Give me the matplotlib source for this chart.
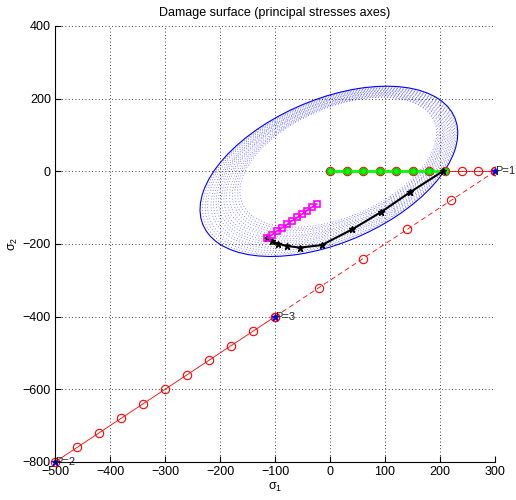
import numpy as np
import matplotlib
matplotlib.use('Agg')
import matplotlib.pyplot as plt
from matplotlib.patches import Ellipse

plt.rcParams['font.family'] = ['Liberation Sans', 'DejaVu Sans']
plt.rcParams['mathtext.default'] = 'regular'

judul = 'Damage surface (principal stresses axes)'

# damage surfaces: semi axes along (1,1) and (1,-1), centre; last one = current surface
surf_a = [215, 219, 224, 228, 233, 237, 242, 246, 251, 255, 260, 264, 269, 273, 278, 282]
surf_b = [133, 136, 138, 141, 144, 147, 149, 152, 155, 158, 160, 163, 166, 169, 171, 174]
surf_cx = [15, 14, 13, 12, 11, 9, 8, 7, 6, 5, 4, 3, 1, 0, -1, -2]
surf_cy = [25, 23, 22, 20, 18, 17, 15, 13, 12, 10, 8, 7, 5, 3, 2, 0]

# loading path (red)
jalur1_x = [0, 30, 60, 90, 120, 150, 180, 210, 240, 270, 300]
jalur1_y = [0, 0, 0, 0, 0, 0, 0, 0, 0, 0, 0]
jalur2_x = [300, 220, 140, 60, -20, -100]
jalur2_y = [0, -80, -160, -240, -320, -400]
jalur3_x = [-100, -140, -180, -220, -260, -300, -340, -380, -420, -460, -500]
jalur3_y = [-400, -440, -480, -520, -560, -600, -640, -680, -720, -760, -800]

# elastic part (green)
hijau_x = [0, 30, 60, 90, 120, 150, 180, 210]
hijau_y = [0, 0, 0, 0, 0, 0, 0, 0]

# stress response (black)
hitam_x = [205, 146, 93, 40, -15, -55, -79, -95, -106, -114]
hitam_y = [0, -57, -112, -160, -203, -210, -205, -199, -192, -183]

# magenta
ungu_x = [-114, -105, -96, -87, -78, -69, -60, -51, -42, -33, -24]
ungu_y = [-183, -174, -164, -155, -146, -136, -127, -118, -108, -99, -90]

# load points
titik_x = [300, -500, -100]
titik_y = [0, -800, -400]
titik_lbl = ['P=1', 'P=2', 'P=3']

fig = plt.figure(figsize=(5.16, 5.0), dpi=100)
ax = fig.add_axes([0.1066, 0.076, 0.8527, 0.872])

for a, b, cx, cy in zip(surf_a[:-1], surf_b[:-1], surf_cx[:-1], surf_cy[:-1]):
    e = Ellipse((cx, cy), 2 * a, 2 * b, angle=45, fill=False, edgecolor='blue',
                linewidth=0.6, linestyle=(0, (1, 2.5)), alpha=0.6)
    ax.add_patch(e)
ax.add_patch(Ellipse((surf_cx[-1], surf_cy[-1]), 2 * surf_a[-1], 2 * surf_b[-1],
                     angle=45, fill=False, edgecolor='blue', linewidth=0.8))

ax.plot(jalur1_x, jalur1_y, 'r-', marker='o', mfc='none', ms=6, lw=0.6, mew=0.8)
ax.plot(jalur2_x, jalur2_y, 'r', linestyle=(0, (6, 4)), marker='o', mfc='none', ms=6, lw=0.6, mew=0.8)
ax.plot(jalur3_x, jalur3_y, 'r-', marker='o', mfc='none', ms=6, lw=0.6, mew=0.8, clip_on=False)

ax.plot(hijau_x, hijau_y, color=(0, 1, 0), lw=2, marker='o', mfc=(0, 1, 0), mec=(0, 0.8, 0), ms=4.5)
ax.plot(hitam_x, hitam_y, 'k-', lw=1.5, marker='*', ms=5)
ax.plot(ungu_x, ungu_y, color='magenta', lw=1.2, marker='s', mfc='none', ms=4.8, mew=1.2)

ax.plot(titik_x, titik_y, 'b*', ms=5, linestyle='none', clip_on=False)
for x, y, s in zip(titik_x, titik_y, titik_lbl):
    ax.text(x, y, s, fontsize=8, ha='left', va='center', color='#222222')

ax.set_xlim(-500, 300)
ax.set_ylim(-800, 400)
ax.set_xticks(np.arange(-500, 301, 100))
ax.set_yticks(np.arange(-800, 401, 200))
ax.tick_params(direction='in', length=4, labelsize=9, pad=3)
ax.grid(True, linestyle=(0, (1, 3)), color='k', linewidth=0.6)
ax.spines['top'].set_visible(False)
ax.spines['right'].set_visible(False)

ax.set_title(judul, fontsize=9, pad=7)
ax.set_xlabel(r'$\sigma_1$', fontsize=9, labelpad=2)
ax.set_ylabel(r'$\sigma_2$', fontsize=9, labelpad=2)

plt.savefig('out.png', dpi=100)
plt.close(fig)
